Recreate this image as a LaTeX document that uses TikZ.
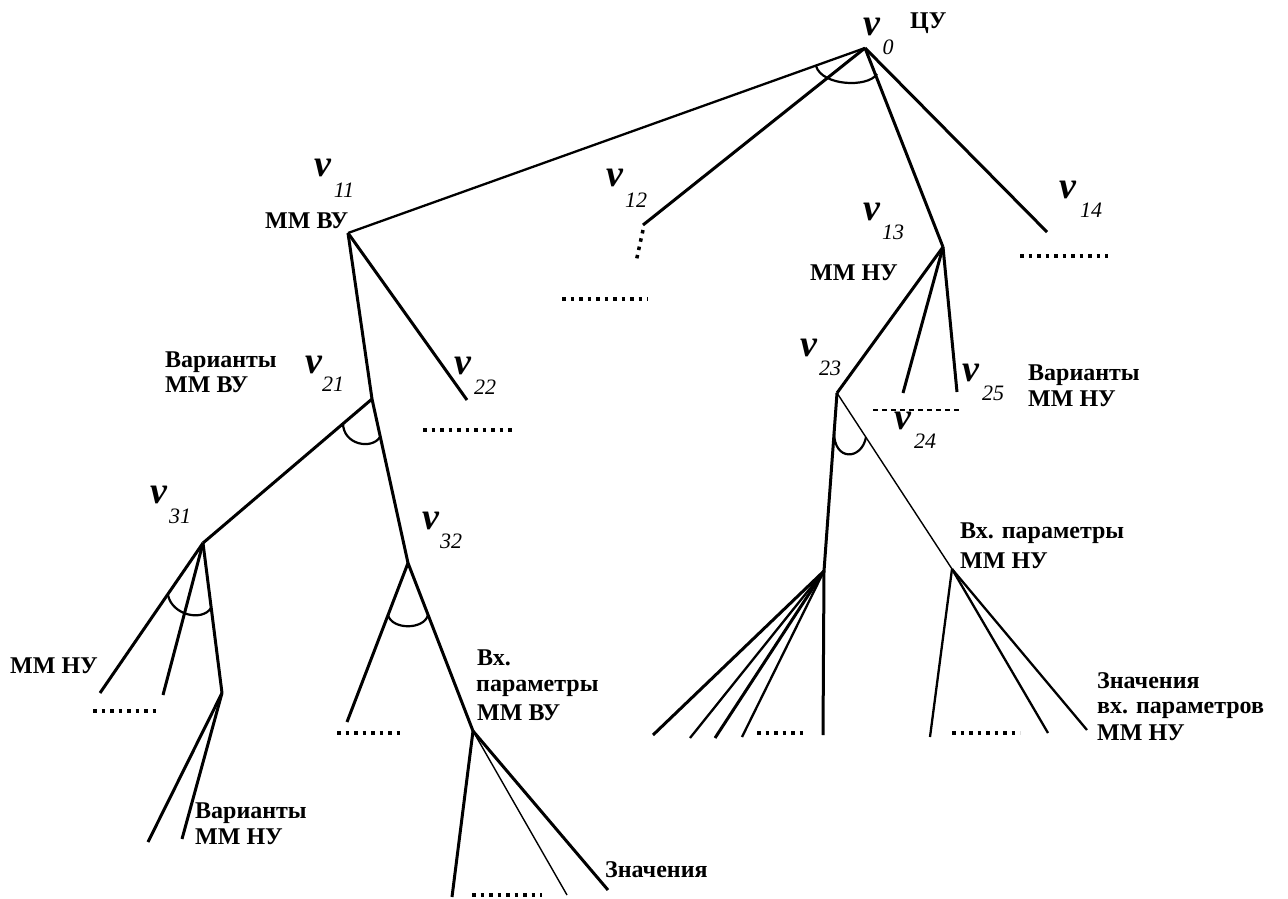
\documentclass[tikz,border=0pt]{standalone}
\usepackage{fontspec}
\setmainfont{Liberation Serif}
\begin{document}
\begin{tikzpicture}[x=1pt,y=-1pt,
  edge/.style={line width=3pt},
  thinedge/.style={line width=1.4pt},
  midedge/.style={line width=2.3pt},
  arcmark/.style={line width=2.2pt},
  dotrow/.style={line width=3.5pt, dash pattern=on 3.5pt off 5pt},
  dashrow/.style={line width=1.4pt, dash pattern=on 5pt off 4pt},
  vlab/.style={inner sep=0pt, font=\fontsize{38}{38}\selectfont\bfseries\itshape},
  sublab/.style={inner sep=0pt, font=\fontsize{22}{22}\selectfont\itshape},
  txt/.style={inner sep=0pt, anchor=base west, font=\fontsize{24}{26}\selectfont\bfseries}]
\useasboundingbox (0,0) rectangle (1288,899);

% tree vertices
\coordinate (v0) at (865,48);
\coordinate (v11) at (348,233);
\coordinate (v12) at (643,225);
\coordinate (v13) at (943,247);
\coordinate (v14) at (1047,232);
\coordinate (v21) at (372,399);
\coordinate (v22) at (467,400);
\coordinate (v23) at (837,393);
\coordinate (v24) at (903,393);
\coordinate (v25) at (957,392);
\coordinate (v31) at (203,543);
\coordinate (v32) at (408,563);
\coordinate (j31) at (222,693);
\coordinate (j32) at (473,731);
\coordinate (jl) at (824,571);
\coordinate (jr) at (952,569);
% leaves
\coordinate (a1) at (100,693);
\coordinate (a2) at (163,695);
\coordinate (b1) at (148,842);
\coordinate (b2) at (182,839);
\coordinate (c1) at (347,722);
\coordinate (d1) at (452,897);
\coordinate (d2) at (567,895);
\coordinate (d3) at (608,890);
\coordinate (e1) at (653,735);
\coordinate (e2) at (690,738);
\coordinate (e3) at (715,738);
\coordinate (e4) at (742,737);
\coordinate (e5) at (823,735);
\coordinate (f1) at (930,737);
\coordinate (f2) at (1048,733);
\coordinate (f3) at (1087,730);

% edges
\draw[midedge] (v0) -- (v11);
\draw[edge] (v0) -- (v12);
\draw[edge] (v0) -- (v13);
\draw[edge] (v0) -- (v14);
\draw[edge] (v11) -- (v21);
\draw[edge] (v11) -- (v22);
\draw[edge] (v13) -- (v23);
\draw[edge] (v13) -- (v24);
\draw[edge] (v13) -- (v25);
\draw[edge] (v21) -- (v31);
\draw[edge] (v21) -- (v32);
\draw[edge] (v31) -- (a1);
\draw[edge] (v31) -- (a2);
\draw[edge] (v31) -- (j31);
\draw[edge] (j31) -- (b1);
\draw[edge] (j31) -- (b2);
\draw[edge] (v32) -- (c1);
\draw[edge] (v32) -- (j32);
\draw[edge] (j32) -- (d1);
\draw[thinedge] (j32) -- (d2);
\draw[edge] (j32) -- (d3);
\draw[edge] (v23) -- (jl);
\draw[thinedge] (v23) -- (jr);
\draw[edge] (jl) -- (e1);
\draw[midedge] (jl) -- (e2);
\draw[edge] (jl) -- (e3);
\draw[midedge] (jl) -- (e4);
\draw[edge] (jl) -- (e5);
\draw[midedge] (jr) -- (f1);
\draw[midedge] (jr) -- (f2);
\draw[midedge] (jr) -- (f3);

% AND arcs
\draw[arcmark] (816,66) .. controls (822,86) and (868,88) .. (877,74);
\draw[arcmark] (343,423) .. controls (343,445) and (372,450) .. (380,437);
\draw[arcmark] (168,595) .. controls (172,615) and (202,622) .. (211,608);
\draw[arcmark] (388,615) .. controls (392,630) and (424,630) .. (428,615);
\draw[arcmark] (834,432) .. controls (834,462) and (862,460) .. (866,437);

% ellipsis marks
\draw[dotrow] (643,230) -- (636,262);
\draw[dotrow] (562,299) -- (648,299);
\draw[dotrow] (1020,256) -- (1108,256);
\draw[dotrow] (423,430) -- (513,430);
\draw[dotrow] (93,711) -- (160,711);
\draw[dotrow] (337,733) -- (403,733);
\draw[dotrow] (472,895) -- (542,895);
\draw[dotrow] (757,733) -- (807,733);
\draw[dotrow] (952,733) -- (1020,733);
\draw[dashrow] (873,410) -- (962,410);

% vertex labels
\node[vlab] (lv0) at (872,27) {v};
\node[sublab] (s0) at (888,47) {0};
\node[txt] (tcu) at (910,29) {ЦУ};
\node[vlab] (lv11) at (323,168) {v};
\node[sublab] (s11) at (344,190) {11};
\node[txt] (t11) at (265,228) {ММ ВУ};
\node[vlab] (lv12) at (615,178) {v};
\node[sublab] (s12) at (636,200) {12};
\node[vlab] (lv13) at (872,212) {v};
\node[sublab] (s13) at (893,232) {13};
\node[txt] (t13) at (810,280) {ММ НУ};
\node[vlab] (lv14) at (1068,190) {v};
\node[sublab] (s14) at (1091,210) {14};
\node[vlab] (lv21) at (314,365) {v};
\node[sublab] (s21) at (333,384) {21};
\node[txt] (t21a) at (165,367) {Варианты};
\node[txt] (t21b) at (165,392) {ММ ВУ};
\node[vlab] (lv22) at (463,366) {v};
\node[sublab] (s22) at (485,387) {22};
\node[vlab] (lv23) at (809,348) {v};
\node[sublab] (s23) at (830,368) {23};
\node[vlab] (lv24) at (903,421) {v};
\node[sublab] (s24) at (925,441) {24};
\node[vlab] (lv25) at (971,373) {v};
\node[sublab] (s25) at (993,393) {25};
\node[txt] (t25a) at (1028,380) {Варианты};
\node[txt] (t25b) at (1028,406) {ММ НУ};
\node[vlab] (lv31) at (159,495) {v};
\node[sublab] (s31) at (180,516) {31};
\node[vlab] (lv32) at (431,521) {v};
\node[sublab] (s32) at (451,541) {32};

% other labels
\node[txt] (t31) at (10,673) {ММ НУ};
\node[txt] (tj31a) at (195,818) {Варианты};
\node[txt] (tj31b) at (195,844) {ММ НУ};
\node[txt] (tj32a) at (477,665) {Вх.};
\node[txt] (tj32b) at (476,691) {параметры};
\node[txt] (tj32c) at (477,720) {ММ ВУ};
\node[txt] (tz) at (605,877) {Значения};
\node[txt] (tjra) at (960,538) {Вх. параметры};
\node[txt] (tjrb) at (960,568) {ММ НУ};
\node[txt] (tza) at (1097,688) {Значения};
\node[txt] (tzb) at (1097,713) {вх. параметров};
\node[txt] (tzc) at (1097,740) {ММ НУ};
\end{tikzpicture}
\end{document}
